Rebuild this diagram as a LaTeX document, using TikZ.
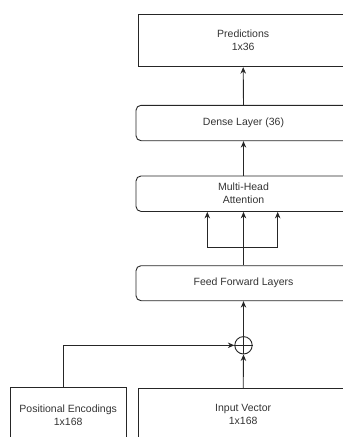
\documentclass[tikz,border=0pt]{standalone}
\usepackage{fontspec}
\setmainfont{Liberation Sans}
\usetikzlibrary{arrows.meta,calc}
\definecolor{linec}{HTML}{262626}
\definecolor{textc}{HTML}{333333}
\begin{document}
\begin{tikzpicture}[x=1pt,y=-1pt,
  every node/.style={font=\fontsize{10.5}{13}\selectfont, text=textc, align=center, inner sep=0pt},
  sharpbox/.style={draw=linec, line width=0.9pt},
  roundbox/.style={draw=linec, line width=0.9pt, rounded corners=5pt},
  arr/.style={draw=linec, line width=0.9pt, -{Stealth[length=6.5pt,width=5.5pt]}},
  ln/.style={draw=linec, line width=0.9pt}]
\useasboundingbox (0,0) rectangle (343,437);
\clip (0,0) rectangle (343,437);
\node[sharpbox, minimum width=209.5pt, minimum height=52.4pt] (pred) at (243.2,40.5) {Predictions\\1x36};
\node[roundbox, minimum width=215pt, minimum height=35.4pt] (dense) at (243.5,123) {Dense Layer (36)};
\node[roundbox, minimum width=215pt, minimum height=35.5pt] (mha) at (243.5,193.7) {Multi-Head\\Attention};
\node[roundbox, minimum width=215pt, minimum height=35pt] (ff) at (243.5,283.2) {Feed Forward Layers};
\node[draw=linec, line width=0.9pt, circle, minimum size=17.4pt] (plus) at (243.5,345.3) {};
\draw[ln] (plus.north) -- (plus.south);
\draw[ln] (plus.west) -- (plus.east);
\node[sharpbox, minimum width=209.5pt, minimum height=52pt] (inp) at (243.2,414.3) {Input Vector\\1x168};
\node[sharpbox, minimum width=115.7pt, minimum height=56pt] (pos) at (68.2,415.5) {Positional Encodings\\1x168};
\coordinate (bl) at (207.3,247.3);
\coordinate (br) at (277.7,247.3);
\coordinate (pe) at (63.3,387.5);
\draw[arr] (dense.north) -- (pred.south);
\draw[arr] (mha.north) -- (dense.south);
\draw[arr] (ff.north) -- (mha.south);
\draw[ln] (bl) -- (br);
\draw[arr] (bl) -- (bl |- mha.south);
\draw[arr] (br) -- (br |- mha.south);
\draw[arr] (plus.north) -- (ff.south);
\draw[arr] (inp.north) -- (plus.south);
\draw[arr] (pe) |- (plus.west);
\end{tikzpicture}
\end{document}
